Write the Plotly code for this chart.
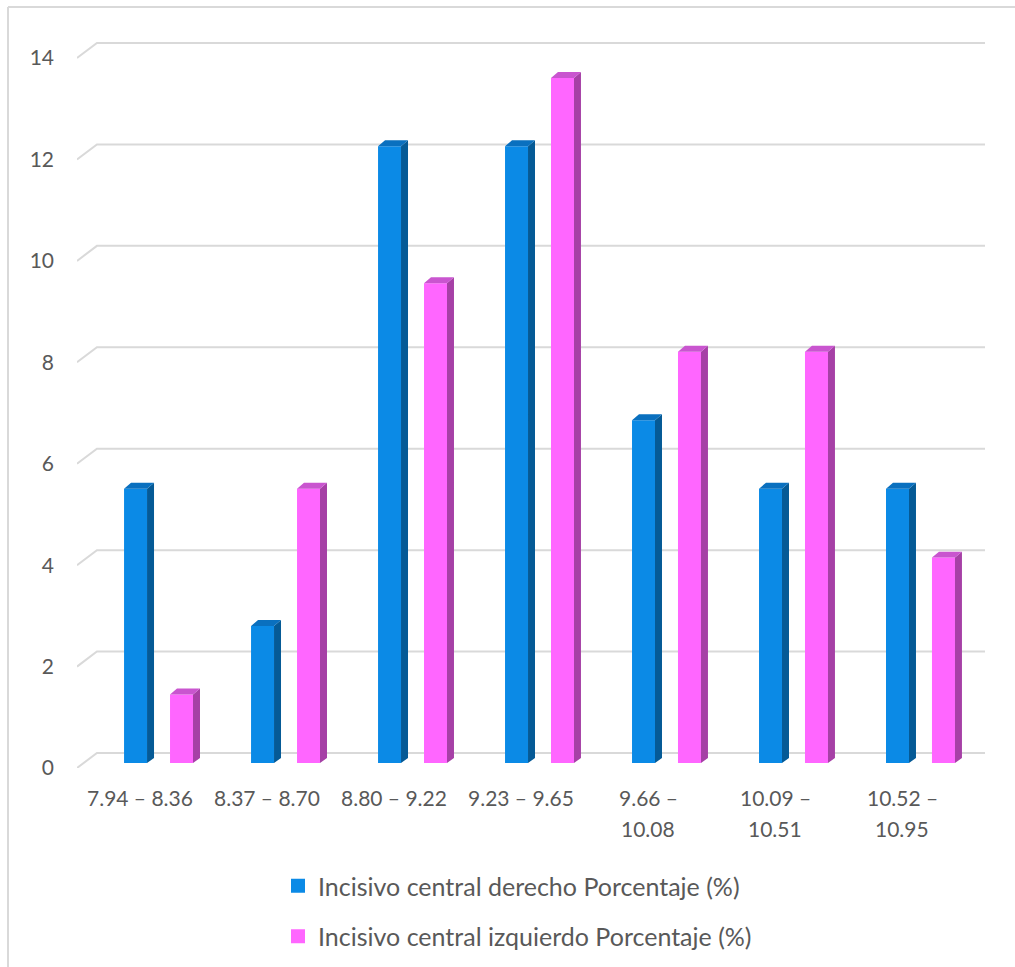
import plotly.graph_objects as go

# Data: share of each tooth-width interval (%)
categories = ["7.94 – 8.36", "8.37 – 8.70", "8.80 – 9.22", "9.23 – 9.65",
              "9.66 –<br>10.08", "10.09 –<br>10.51", "10.52 –<br>10.95"]
derecho = [5.41, 2.70, 12.16, 12.16, 6.76, 5.41, 5.41]
izquierdo = [1.35, 5.41, 9.46, 13.51, 8.11, 8.11, 4.05]
y_ticks = [0, 2, 4, 6, 8, 10, 12, 14]

series_names = ["Incisivo central derecho Porcentaje (%)",
                "Incisivo central izquierdo Porcentaje (%)"]

# Face colours for the pseudo-3D columns: front, side, top
blue = ("#0b8ae6", "#055a96", "#0a70bf")
pink = ("#ff66ff", "#a640a6", "#c955cf")
TEXT = "#595959"
GRID = "#d9d9d9"

W, H = 1015, 967
ML, MR, MT, MB = 77, 30, 40, 199
PLOT_W, PLOT_H = W - ML - MR, H - MT - MB

# Geometry in data units (one category = 1 on x)
X_RANGE = [-0.654, 6.496]
Y_RANGE = [-0.0986, 14.257]
BAR_W = 0.181
OFF_BLUE, OFF_PINK = -0.193, 0.169
DEPTH_X, DEPTH_Y = 0.055, 0.118        # column depth (side/top faces)
WALL_X, WALL_Y = 0.157, 0.296          # depth of back wall relative to front edge
FRONT_Y = -0.0986                      # front edge of the floor/grid


def to_px_x(p):
    return (p - ML) / PLOT_W


def to_px_y(p):
    return (H - MB - p) / PLOT_H


fig = go.Figure()

# Front faces as bars
for vals, off, col, name in [(derecho, OFF_BLUE, blue, series_names[0]),
                             (izquierdo, OFF_PINK, pink, series_names[1])]:
    xs = [i + off for i in range(len(vals))]
    fig.add_trace(go.Bar(x=xs, y=vals, width=BAR_W, marker_color=col[0],
                         marker_line_width=0, showlegend=False,
                         name=name, hoverinfo="y"))

# Side and top faces built from the same values
for vals, off, col in [(derecho, OFF_BLUE, blue), (izquierdo, OFF_PINK, pink)]:
    sx, sy, tx, ty = [], [], [], []
    for i, v in enumerate(vals):
        xl = i + off - BAR_W / 2
        xr = i + off + BAR_W / 2
        sx += [xr, xr, xr + DEPTH_X, xr + DEPTH_X, xr, None]
        sy += [0, v, v + DEPTH_Y, DEPTH_Y * 0.85, 0, None]
        tx += [xl, xr, xr + DEPTH_X, xl + DEPTH_X, xl, None]
        ty += [v, v, v + DEPTH_Y, v + DEPTH_Y, v, None]
    fig.add_trace(go.Scatter(x=sx, y=sy, fill="toself", fillcolor=col[1],
                             mode="lines", line=dict(width=0),
                             showlegend=False, hoverinfo="skip"))
    fig.add_trace(go.Scatter(x=tx, y=ty, fill="toself", fillcolor=col[2],
                             mode="lines", line=dict(width=0),
                             showlegend=False, hoverinfo="skip"))

# Legend entries
for name, col, grp in [(series_names[0], blue[0], "a"),
                       (series_names[1], pink[0], "b")]:
    fig.add_trace(go.Scatter(x=[None], y=[None], mode="markers", name=name,
                             legendgroup=grp,
                             marker=dict(symbol="square", size=14, color=col)))

# Gridlines: short diagonal from the front edge, then along the back wall
shapes = []
for t in y_ticks:
    x0 = X_RANGE[0]
    y0 = t + FRONT_Y
    x1 = X_RANGE[0] + WALL_X
    y1 = y0 + WALL_Y
    x2 = X_RANGE[1]
    shapes.append(dict(type="path", xref="x", yref="y", layer="below",
                       path=f"M {x0},{y0} L {x1},{y1} L {x2},{y1}",
                       line=dict(color=GRID, width=2)))

# Chart-area frame (top and left edges)
shapes.append(dict(type="line", xref="paper", yref="paper",
                   x0=to_px_x(8), x1=to_px_x(1030), y0=to_px_y(7), y1=to_px_y(7),
                   line=dict(color=GRID, width=2)))
shapes.append(dict(type="line", xref="paper", yref="paper",
                   x0=to_px_x(8), x1=to_px_x(8), y0=to_px_y(7), y1=to_px_y(980),
                   line=dict(color=GRID, width=2)))

# Category labels under the front edge (wrapped labels get a second line)
annotations = []
for i, label in enumerate(categories):
    for k, line in enumerate(label.split("<br>")):
        annotations.append(dict(x=i - WALL_X, y=0, xref="x", yref="paper",
                                text=line, showarrow=False,
                                xanchor="center", yanchor="middle",
                                yshift=-29 - 31 * k,
                                font=dict(size=21, color=TEXT)))

font_family = "Lato, 'Open Sans', sans-serif"
fig.update_layout(
    width=W, height=H,
    margin=dict(l=ML, r=MR, t=MT, b=MB, autoexpand=False),
    paper_bgcolor="white", plot_bgcolor="white",
    barmode="overlay",
    shapes=shapes,
    annotations=annotations,
    font=dict(family=font_family, size=21, color=TEXT),
    xaxis=dict(range=X_RANGE, showgrid=False, zeroline=False, showline=False,
               showticklabels=False, ticks=""),
    yaxis=dict(range=Y_RANGE, showgrid=False, zeroline=False, showline=False,
               tickmode="array",
               tickvals=[t + FRONT_Y for t in y_ticks],
               ticktext=[str(t) for t in y_ticks], ticks="",
               ticklabelstandoff=22,
               tickfont=dict(size=21, color=TEXT)),
    legend=dict(x=to_px_x(278), y=to_px_y(863), xanchor="left", yanchor="top",
                orientation="v", tracegroupgap=15,
                font=dict(size=25, color=TEXT),
                bgcolor="rgba(0,0,0,0)"),
)

fig.write_html("out.html")
